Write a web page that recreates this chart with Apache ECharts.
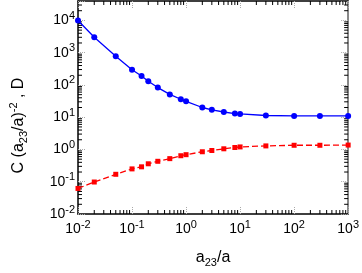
<!DOCTYPE html>
<html><head><meta charset="utf-8">
<script src="https://cdn.jsdelivr.net/npm/echarts@6/dist/echarts.min.js"></script>
<style>html,body{margin:0;padding:0;background:#fff}#c{width:362px;height:273px}</style>
</head><body><div id="c"></div>
<script>
var xValues = [0.01, 0.02, 0.05, 0.1, 0.15, 0.2, 0.3, 0.5, 0.8, 1, 2, 3, 5, 8, 10, 30, 100, 300, 1000];
var blueC = [10000, 3000, 770, 295, 190, 131, 83, 51, 36, 31, 20, 17, 14.5, 13, 12.6, 11.3, 11, 11, 11];
var redD = [0.062, 0.098, 0.17, 0.25, 0.29, 0.36, 0.43, 0.52, 0.64, 0.69, 0.85, 0.93, 1.05, 1.15, 1.2, 1.29, 1.35, 1.35, 1.37];
var xDecades = [0.01, 0.1, 1, 10, 100];
var yDecades = [0.01, 0.1, 1, 10, 100, 1000, 10000];
var minorMult = [2, 3, 4, 5, 6, 7, 8, 9];
var X_MIN = 0.01, X_MAX = 1000, Y_MIN = 0.01, Y_MAX = 40000;

function minors(decs, maxV) {
  var out = [];
  decs.forEach(function (d) { minorMult.forEach(function (m) { var v = d * m; if (v < maxV) out.push(v); }); });
  return out;
}
var xMinor = minors(xDecades, X_MAX);
var yMinor = minors(yDecades, Y_MAX);

function fmt(v) {
  var e = Math.round(Math.log10(v));
  if (Math.abs(v - Math.pow(10, e)) / Math.pow(10, e) > 1e-6) return '';
  return '{b|10}{s|' + e + '}';
}
var rich = {
  b: { fontSize: 14, fontFamily: 'Liberation Sans', color: '#000' },
  s: { fontSize: 11, fontFamily: 'Liberation Sans', color: '#000', verticalAlign: 'bottom', padding: [0, 0, 9, 0] }
};
var majorTick = { show: true, inside: true, length: 7, lineStyle: { color: '#aaa', width: 1, type: 'dotted' } };

var chart = echarts.init(document.getElementById('c'), null, { renderer: 'canvas' });
chart.setOption({
  animation: false,
  backgroundColor: '#fff',
  grid: { left: 62, right: 13, top: 1, bottom: 46, containLabel: false },
  xAxis: [{
    type: 'log', min: X_MIN, max: X_MAX, logBase: 10, position: 'bottom',
    axisLine: { lineStyle: { color: '#000', width: 1.5 } },
    axisTick: majorTick, splitLine: { show: false },
    axisLabel: { formatter: fmt, rich: rich, margin: 5 },
    name: '{t|a}{sub|23}{t|/a}', nameLocation: 'middle', nameGap: 33,
    nameTextStyle: { rich: {
      t: { fontSize: 16, fontFamily: 'Liberation Sans', color: '#000' },
      sub: { fontSize: 11, fontFamily: 'Liberation Sans', color: '#000', verticalAlign: 'top', padding: [10, 0, 0, 0] }
    } }
  }, {
    type: 'log', min: X_MIN, max: X_MAX, logBase: 10, position: 'top',
    axisLine: { lineStyle: { color: '#000', width: 1.5 } },
    axisTick: majorTick, axisLabel: { show: false }, splitLine: { show: false }
  }],
  yAxis: [{
    type: 'log', min: Y_MIN, max: Y_MAX, logBase: 10, position: 'left',
    axisLine: { lineStyle: { color: '#000', width: 1.5 } },
    axisTick: majorTick, splitLine: { show: false },
    axisLabel: { formatter: fmt, rich: rich, margin: 3 },
    name: '{t|C (a}{sub|23}{t|/a)}{sup|-2}{t| , D}', nameLocation: 'middle', nameGap: 49, nameRotate: 90,
    nameTextStyle: { padding: [0, 36, 0, 0], rich: {
      t: { fontSize: 16, fontFamily: 'Liberation Sans', color: '#000' },
      sub: { fontSize: 11, fontFamily: 'Liberation Sans', color: '#000', verticalAlign: 'top', padding: [10, 0, 0, 0] },
      sup: { fontSize: 11, fontFamily: 'Liberation Sans', color: '#000', verticalAlign: 'bottom', padding: [0, 0, 10, 0] }
    } }
  }, {
    type: 'log', min: Y_MIN, max: Y_MAX, logBase: 10, position: 'right',
    axisLine: { lineStyle: { color: '#888', width: 2 } },
    axisTick: majorTick, axisLabel: { show: false }, splitLine: { show: false }
  }],
  series: [{
    type: 'line', xAxisIndex: 0, yAxisIndex: 0,
    data: xValues.map(function (x, i) { return [x, blueC[i]]; }),
    symbol: 'circle', symbolSize: 6, showAllSymbol: true, smooth: false,
    itemStyle: { color: '#0000ff' }, lineStyle: { color: '#0000ff', width: 1.3 }
  }, {
    type: 'line', xAxisIndex: 0, yAxisIndex: 0,
    data: xValues.map(function (x, i) { return [x, redD[i]]; }),
    symbol: 'rect', symbolSize: 5, showAllSymbol: true,
    itemStyle: { color: '#ff0000' }, lineStyle: { color: '#ff0000', width: 1.3, type: [6, 3] }
  }, {
    type: 'custom', xAxisIndex: 0, yAxisIndex: 0, silent: true, clip: false,
    data: xMinor.map(function (v) { return [v, 1]; }),
    renderItem: function (params, api) {
      var v = api.value(0);
      var b = api.coord([v, Y_MIN]), t = api.coord([v, Y_MAX]);
      var st = { stroke: '#000', lineWidth: 1 };
      return { type: 'group', children: [
        { type: 'line', shape: { x1: b[0], y1: b[1], x2: b[0], y2: b[1] - 4 }, style: st },
        { type: 'line', shape: { x1: t[0], y1: t[1], x2: t[0], y2: t[1] + 4 }, style: st }
      ] };
    }
  }, {
    type: 'custom', xAxisIndex: 0, yAxisIndex: 0, silent: true, clip: false,
    data: yMinor.map(function (v) { return [1, v]; }),
    renderItem: function (params, api) {
      var v = api.value(1);
      var l = api.coord([X_MIN, v]), r = api.coord([X_MAX, v]);
      var st = { stroke: '#000', lineWidth: 1 };
      return { type: 'group', children: [
        { type: 'line', shape: { x1: l[0], y1: l[1], x2: l[0] + 4, y2: l[1] }, style: st },
        { type: 'line', shape: { x1: r[0], y1: r[1], x2: r[0] - 4, y2: r[1] }, style: st }
      ] };
    }
  }]
});
</script></body></html>
